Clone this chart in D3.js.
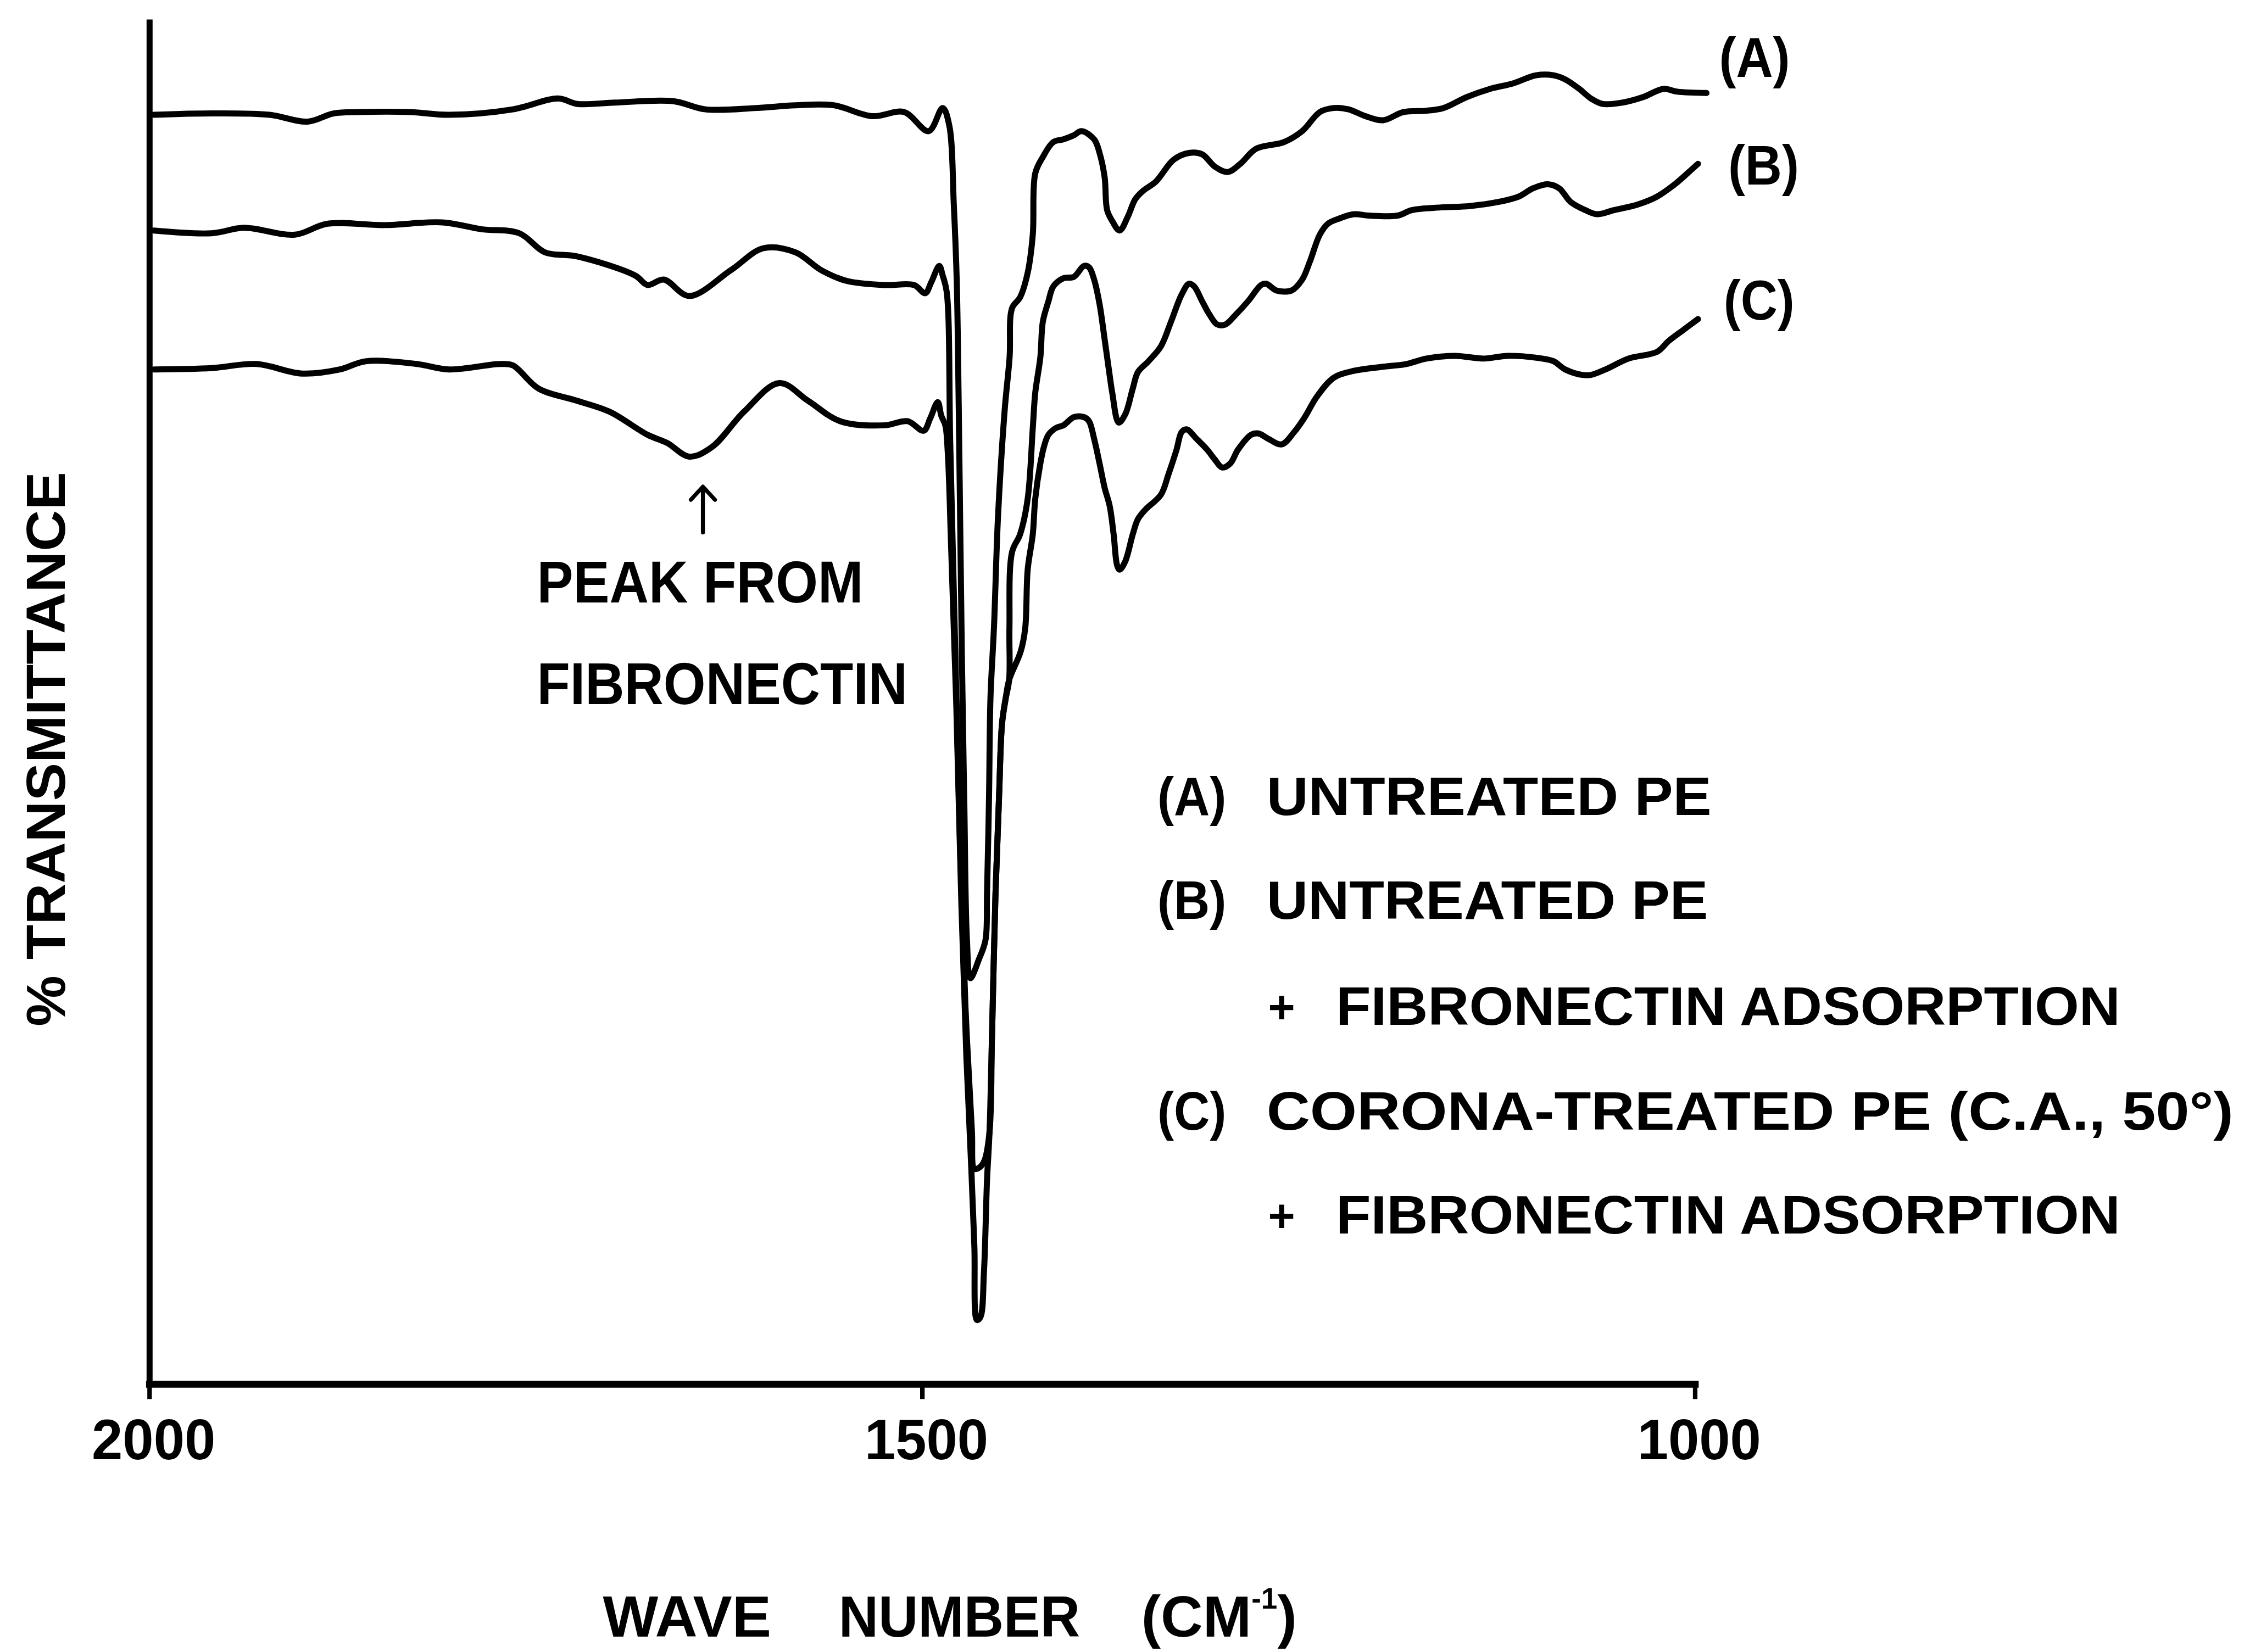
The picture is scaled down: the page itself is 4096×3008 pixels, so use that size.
<!DOCTYPE html>
<html>
<head>
<meta charset="utf-8">
<script src="https://cdn.jsdelivr.net/npm/d3@7"></script>
<style>
  html, body { margin: 0; padding: 0; background: #ffffff; }
  svg { display: block; }
  text { font-family: "Liberation Sans", Arial, sans-serif; font-weight: bold; fill: #000; }
</style>
</head>
<body>
<svg id="chart" width="4096" height="3008" viewBox="0 0 4475 3286"></svg>
<script>
// ---------------- DATA (wavenumber cm-1, % transmittance, arbitrary offset) ----------------
const xTicks = [2000, 1500, 1000];

const seriesA = [
  [1997.1,93.2],[1959.7,93.3],[1922.3,93.2],[1897.5,92.7],[1880.9,93.3],[1864.3,93.4],[1831.2,93.4],
  [1806.1,93.2],[1764.8,93.6],[1735.5,94.4],[1723.2,94.0],[1698.4,94.1],[1661.0,94.2],[1640.2,93.6],
  [1607.0,93.7],[1582.0,93.9],[1557.3,93.9],[1532.2,93.1],[1511.7,93.4],[1495.8,92.0],[1486.7,93.7],
  [1482.4,92.4],[1479.5,86.6],[1477.6,81.0],[1476.3,71.7],[1474.3,53.6],[1472.7,42.6],[1471.0,32.6],
  [1468.8,29.8],[1463.2,31.2],[1459.0,32.6],[1458.0,36.1],[1456.7,43.2],[1455.8,50.3],[1453.5,55.6],
  [1450.9,63.7],[1446.6,71.5],[1443.4,75.4],[1441.8,79.0],[1436.6,79.8],[1431.7,81.6],[1428.4,84.4],
  [1426.8,88.9],[1421.9,90.1],[1415.1,91.2],[1408.6,91.4],[1401.8,91.7],[1396.9,92.0],[1388.7,91.4],
  [1385.2,90.4],[1381.9,88.6],[1380.3,86.2],[1377.0,85.4],[1372.2,84.7],[1367.0,85.7],[1362.1,87.0],
  [1357.2,87.6],[1348.7,88.3],[1337.3,89.9],[1327.3,90.4],[1318.8,90.3],[1310.7,89.4],[1302.2,89.0],
  [1294.1,89.6],[1284.0,90.7],[1265.8,91.2],[1254.1,92.0],[1242.7,93.4],[1233.6,93.7],[1224.1,93.6],
  [1213.1,93.1],[1201.7,92.8],[1188.7,93.4],[1173.7,93.5],[1162.7,93.7],[1147.7,94.5],[1132.7,95.1],
  [1117.8,95.5],[1102.8,96.1],[1091.4,96.1],[1083.9,95.8],[1074.8,95.1],[1067.3,94.4],[1059.9,94.0],
  [1046.8,94.1],[1033.5,94.5],[1020.5,95.1],[1011.4,94.9],[992.5,94.8]
];

const seriesB = [
  [1997.1,84.7],[1959.7,84.5],[1938.8,84.9],[1905.7,84.4],[1884.8,85.2],[1847.8,85.1],[1810.3,85.3],
  [1785.3,84.8],[1760.6,84.5],[1744.0,83.1],[1723.2,82.8],[1685.7,81.4],[1677.6,80.7],[1667.2,81.1],
  [1650.6,79.9],[1623.6,81.8],[1602.8,83.4],[1582.0,83.1],[1565.4,81.8],[1548.8,81.0],[1524.1,80.7],
  [1505.2,80.7],[1498.0,80.1],[1494.1,80.9],[1488.9,82.1],[1486.7,81.4],[1484.1,80.2],[1481.8,69.0],
  [1478.5,53.6],[1475.3,38.9],[1472.0,27.8],[1467.8,18.6],[1466.2,15.8],[1462.9,15.9],[1459.7,16.4],
  [1456.4,18.5],[1454.8,25.5],[1452.5,36.1],[1450.2,43.2],[1448.3,48.5],[1446.0,50.3],[1443.7,51.7],
  [1443.5,55.5],[1441.8,61.1],[1436.6,62.4],[1431.7,65.0],[1428.4,70.2],[1426.8,72.8],[1423.5,75.4],
  [1421.9,78.0],[1418.3,79.5],[1415.1,80.6],[1408.6,81.2],[1401.8,81.3],[1395.3,82.1],[1392.0,82.0],
  [1388.7,81.1],[1385.2,79.3],[1381.9,76.7],[1378.7,74.1],[1377.0,72.8],[1372.8,70.6],[1368.6,71.2],
  [1363.7,73.1],[1360.4,74.3],[1353.6,75.1],[1345.5,76.2],[1339.0,78.0],[1332.1,80.0],[1327.3,80.8],
  [1324.0,80.6],[1318.8,79.5],[1313.9,78.5],[1309.0,77.8],[1303.8,77.8],[1297.3,78.5],[1289.2,79.5],
  [1280.7,80.7],[1277.5,80.8],[1270.7,80.3],[1260.9,80.3],[1254.1,81.1],[1249.2,82.4],[1242.7,84.4],
  [1237.5,85.2],[1229.7,85.6],[1220.6,85.9],[1211.1,85.8],[1192.3,85.8],[1183.2,86.2],[1164.3,86.4],
  [1145.7,86.5],[1127.2,86.8],[1113.9,87.2],[1104.8,87.8],[1095.3,88.1],[1087.8,87.8],[1080.4,86.8],
  [1070.9,86.2],[1063.4,85.9],[1052.4,86.2],[1037.4,86.6],[1024.4,87.2],[1013.0,88.1],[1003.9,89.0],
  [998.0,89.6]
];

const seriesC = [
  [1997.1,74.5],[1959.7,74.6],[1930.7,74.9],[1901.4,74.2],[1876.7,74.5],[1860.1,75.1],[1826.9,74.9],
  [1806.1,74.5],[1772.9,74.9],[1764.8,74.8],[1748.2,73.1],[1723.2,72.2],[1702.3,71.4],[1677.6,69.7],
  [1664.9,69.1],[1650.6,68.1],[1636.0,68.8],[1615.2,71.4],[1592.4,73.5],[1573.8,72.2],[1553.0,70.7],
  [1524.1,70.4],[1509.4,70.7],[1499.0,70.0],[1494.8,70.9],[1489.9,72.1],[1487.6,71.1],[1485.0,70.4],
  [1483.4,68.4],[1481.1,61.0],[1477.9,49.9],[1474.6,35.2],[1471.4,24.1],[1468.1,15.6],[1466.2,10.1],
  [1464.5,4.7],[1462.3,4.9],[1460.0,8.2],[1458.0,15.0],[1456.4,18.5],[1454.8,25.5],[1452.5,36.1],
  [1450.2,43.2],[1448.3,48.5],[1446.0,50.3],[1443.7,51.7],[1436.2,53.8],[1433.3,55.5],[1431.7,59.8],
  [1428.4,62.4],[1426.8,65.0],[1423.5,67.6],[1421.0,68.9],[1418.3,69.7],[1413.5,70.2],[1408.6,70.4],
  [1401.8,71.0],[1395.3,71.0],[1392.0,70.7],[1388.7,69.4],[1385.2,67.6],[1381.9,65.8],[1378.7,64.5],
  [1376.1,62.4],[1373.8,60.1],[1372.2,59.8],[1368.6,60.4],[1363.7,62.4],[1360.4,63.5],[1355.6,64.2],
  [1345.5,65.3],[1340.6,66.8],[1335.4,68.6],[1332.1,69.9],[1328.9,70.1],[1322.4,69.4],[1315.5,68.6],
  [1310.7,67.9],[1305.8,67.3],[1300.6,67.6],[1295.7,68.6],[1287.2,69.7],[1282.4,69.8],[1275.9,69.4],
  [1267.4,69.0],[1259.3,69.9],[1252.4,71.0],[1244.6,72.5],[1233.6,73.9],[1220.6,74.4],[1201.7,74.7],
  [1186.7,74.9],[1173.7,75.3],[1155.2,75.5],[1136.3,75.3],[1121.3,75.5],[1098.9,75.3],[1091.4,75.1],
  [1083.9,74.5],[1072.9,74.1],[1067.3,74.1],[1057.9,74.5],[1042.9,75.3],[1024.4,75.8],[1016.9,76.6],
  [1007.5,77.4],[998.0,78.2]
];

const seriesNames = ["(A)", "(B)", "(C)"];
const legendTags = ["(A)", "(B)", "", "(C)", ""];
const legendTexts = ["UNTREATED  PE", "UNTREATED  PE", "FIBRONECTIN  ADSORPTION",
                     "CORONA-TREATED  PE  (C.A.,  50\u00B0)", "FIBRONECTIN  ADSORPTION"];
const annotationLines = ["PEAK FROM", "FIBRONECTIN"];
const xTitleWords = ["WAVE", "NUMBER"];
const yTitle = "% TRANSMITTANCE";

// ---------------- LAYOUT (reference pixel space, scaled by viewBox) ----------------
const svg = d3.select("#chart");
const plot = { left: 297, right: 3371, top: 44, bottom: 2753 };

const x = d3.scaleLinear().domain([2000, 1000]).range([plot.left, plot.right]);
const y = d3.scaleLinear().domain([0, 100]).range([plot.bottom, plot.top]);

// Y axis (plain line, no ticks)
const yAxisG = svg.append("g")
  .attr("transform", `translate(${plot.left},0)`)
  .call(d3.axisLeft(y).tickValues([]).tickSizeOuter(0));
yAxisG.attr("font-size", null).attr("font-family", null);
yAxisG.select(".domain").attr("stroke", "#000").attr("stroke-width", 12).attr("stroke-linecap", "square");

// X axis
const xAxisG = svg.append("g")
  .attr("transform", `translate(0,${plot.bottom})`)
  .call(d3.axisBottom(x).tickValues(xTicks).tickSize(30).tickSizeOuter(0).tickPadding(40)
        .tickFormat(d3.format("d")));
xAxisG.attr("font-size", null).attr("font-family", null);
xAxisG.select(".domain").attr("stroke", "#000").attr("stroke-width", 14).attr("stroke-linecap", "square");
xAxisG.selectAll(".tick line").attr("stroke", "#000").attr("stroke-width", 9);
xAxisG.selectAll(".tick text")
  .attr("font-size", 113)
  .attr("dx", 8)
  .attr("textLength", 246)
  .attr("lengthAdjust", "spacingAndGlyphs");

// Curves
const line = d3.line()
  .x(d => x(d[0]))
  .y(d => y(d[1]))
  .curve(d3.curveCatmullRom.alpha(0.5));

[seriesA, seriesB, seriesC].forEach(s => {
  svg.append("path")
    .datum(s)
    .attr("d", line)
    .attr("fill", "none")
    .attr("stroke", "#000")
    .attr("stroke-width", 12)
    .attr("stroke-linejoin", "round")
    .attr("stroke-linecap", "round");
});

// Series labels at the right ends of the curves
const seriesLabelPos = [[3419, 153], [3437, 367], [3428, 636]];
seriesNames.forEach((name, i) => {
  svg.append("text")
    .attr("x", seriesLabelPos[i][0])
    .attr("y", seriesLabelPos[i][1])
    .attr("font-size", 112)
    .attr("textLength", 141)
    .attr("lengthAdjust", "spacingAndGlyphs")
    .text(name);
});

// Annotation arrow + text
svg.append("path")
  .attr("d", "M1398,1059 V970 M1374,994 L1398,968 L1422,994")
  .attr("fill", "none")
  .attr("stroke", "#000")
  .attr("stroke-width", 8)
  .attr("stroke-linecap", "round")
  .attr("stroke-linejoin", "round");

const annPos = [[1068, 1198, 649], [1068, 1401, 737]];
annotationLines.forEach((t, i) => {
  svg.append("text")
    .attr("x", annPos[i][0]).attr("y", annPos[i][1])
    .attr("font-size", 117)
    .attr("textLength", annPos[i][2])
    .attr("lengthAdjust", "spacingAndGlyphs")
    .text(t);
});

// Legend block
const legendY = [1621, 1828, 2039, 2247, 2454];
const legendTextX = [2519, 2519, 2657, 2519, 2657];
const legendTextW = [885, 878, 1560, 1923, 1560];
legendTexts.forEach((t, i) => {
  if (legendTags[i]) {
    svg.append("text")
      .attr("x", 2302).attr("y", legendY[i])
      .attr("font-size", 108)
      .attr("textLength", 137)
      .attr("lengthAdjust", "spacingAndGlyphs")
      .text(legendTags[i]);
  } else {
    svg.append("text")
      .attr("x", 2522).attr("y", legendY[i] - 4)
      .attr("font-size", 92)
      .text("+");
  }
  svg.append("text")
    .attr("x", legendTextX[i]).attr("y", legendY[i])
    .attr("font-size", 108)
    .attr("textLength", legendTextW[i])
    .attr("lengthAdjust", "spacingAndGlyphs")
    .text(t);
});

// X axis title
const xTitlePos = [[1199, 335], [1668, 480]];
xTitleWords.forEach((w, i) => {
  svg.append("text")
    .attr("x", xTitlePos[i][0]).attr("y", 3256)
    .attr("font-size", 116)
    .attr("textLength", xTitlePos[i][1])
    .attr("lengthAdjust", "spacingAndGlyphs")
    .text(w);
});
const unit = svg.append("text").attr("x", 2270).attr("y", 3256).attr("font-size", 116);
unit.append("tspan").text("(CM");
unit.append("tspan").attr("font-size", 58).attr("dy", -56).text("-1");
unit.append("tspan").attr("dy", 56).text(")");

// Y axis title
svg.append("text")
  .attr("transform", "translate(129,1490) rotate(-90)")
  .attr("text-anchor", "middle")
  .attr("font-size", 109)
  .attr("textLength", 1103)
  .attr("lengthAdjust", "spacingAndGlyphs")
  .text(yTitle);
</script>
</body>
</html>
